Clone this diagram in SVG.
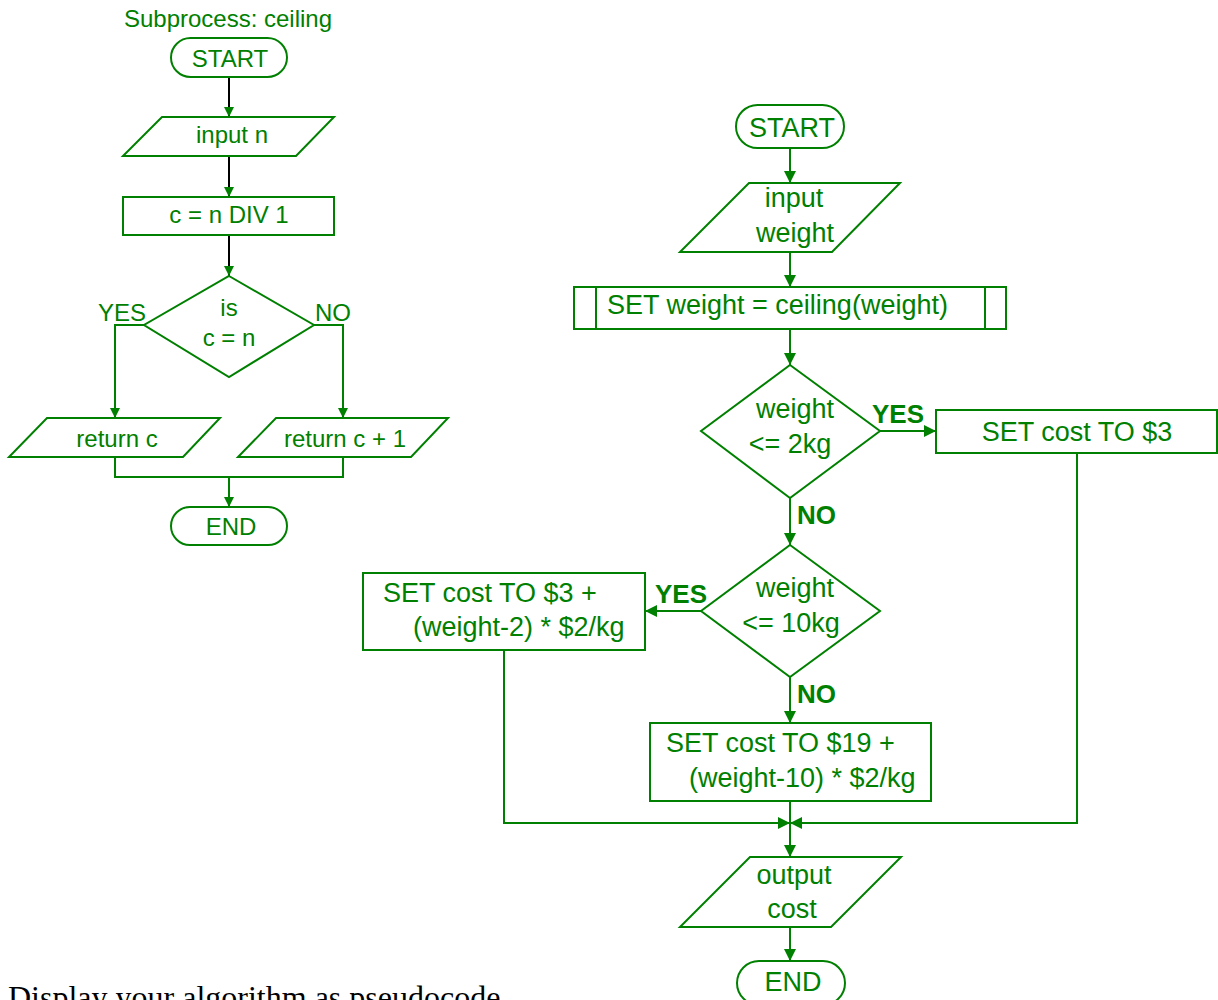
<svg xmlns="http://www.w3.org/2000/svg" width="1218" height="1000" viewBox="0 0 1218 1000">
<defs>
<style>
.s{fill:#fff;stroke:#008000;stroke-width:2}
.c{fill:none;stroke:#008000;stroke-width:2}
.k{fill:none;stroke:#000;stroke-width:2}
text{font-family:"Liberation Sans",Arial,sans-serif;fill:#008000}
.l{font-size:24px}
.r{font-size:27px}
.b{font-size:26px;font-weight:bold}
.m{text-anchor:middle}
</style>
<marker id="a" viewBox="0 0 12 12" refX="12" refY="6" markerWidth="12" markerHeight="12" markerUnits="userSpaceOnUse" orient="auto">
<path d="M0,0 L12,6 L0,12 z" fill="#008000"/>
</marker>
<marker id="as" viewBox="0 0 12 12" refX="12" refY="6" markerWidth="10" markerHeight="10" markerUnits="userSpaceOnUse" orient="auto">
<path d="M0,0 L12,6 L0,12 z" fill="#008000"/>
</marker>
</defs>
<rect width="1218" height="1000" fill="#fff"/>

<g id="connectors">
<line class="k" x1="229" y1="77" x2="229" y2="117" marker-end="url(#as)"/>
<line class="k" x1="229" y1="156" x2="229" y2="197" marker-end="url(#as)"/>
<line class="k" x1="229" y1="235" x2="229" y2="276" marker-end="url(#as)"/>
<polyline class="c" points="144,325 115,325 115,418" marker-end="url(#as)"/>
<polyline class="c" points="314,325 343,325 343,418" marker-end="url(#as)"/>
<polyline class="c" points="115,457 115,477 343,477 343,457"/>
<line class="c" x1="229" y1="477" x2="229" y2="507" marker-end="url(#as)"/>

<line class="c" x1="790" y1="148" x2="790" y2="183" marker-end="url(#a)"/>
<line class="c" x1="790" y1="252" x2="790" y2="287" marker-end="url(#a)"/>
<line class="c" x1="790" y1="329" x2="790" y2="365" marker-end="url(#a)"/>
<line class="c" x1="880" y1="431" x2="936" y2="431" marker-end="url(#a)"/>
<line class="c" x1="790" y1="498" x2="790" y2="545" marker-end="url(#a)"/>
<line class="c" x1="701" y1="611" x2="645" y2="611" marker-end="url(#a)"/>
<line class="c" x1="790" y1="677" x2="790" y2="723" marker-end="url(#a)"/>
<polyline class="c" points="504,650 504,823 790,823" marker-end="url(#a)"/>
<polyline class="c" points="1077,453 1077,823 790,823" marker-end="url(#a)"/>
<line class="c" x1="790" y1="801" x2="790" y2="857" marker-end="url(#a)"/>
<line class="c" x1="790" y1="927" x2="790" y2="961" marker-end="url(#a)"/>
<text class="b" x="898" y="423" text-anchor="middle">YES</text>
<text class="b" x="797" y="524">NO</text>
<text class="b" x="681" y="603" text-anchor="middle">YES</text>
<text class="b" x="797" y="703">NO</text>
<text class="l" x="122" y="321" text-anchor="middle">YES</text>
<text class="l" x="333" y="321" text-anchor="middle">NO</text>
</g>

<text class="l m" x="228" y="27">Subprocess: ceiling</text>

<g id="l-start">
<rect class="s" x="171" y="38" width="116" height="39" rx="19.5"/>
<text class="l m" x="230" y="67">START</text>
</g>
<g id="l-input">
<polygon class="s" points="162,117 334,117 296,156 123,156"/>
<text class="l m" x="232" y="143">input n</text>
</g>
<g id="l-div">
<rect class="s" x="123" y="197" width="211" height="38"/>
<text class="l m" x="229" y="223">c = n DIV 1</text>
</g>
<g id="l-dec">
<polygon class="s" points="229,276 314,325 229,377 144,325"/>
<text class="l m" x="229" y="316">is</text>
<text class="l m" x="229" y="346">c = n</text>
</g>
<g id="l-retc">
<polygon class="s" points="47,418 220,418 183,457 9,457"/>
<text class="l m" x="117" y="447">return c</text>
</g>
<g id="l-retc1">
<polygon class="s" points="276,418 448,418 411,457 238,457"/>
<text class="l m" x="345" y="447">return c + 1</text>
</g>
<g id="l-end">
<rect class="s" x="171" y="507" width="116" height="38" rx="19"/>
<text class="l m" x="231" y="535">END</text>
</g>

<g id="r-start">
<rect class="s" x="736" y="105" width="108" height="43" rx="21.5"/>
<text class="r m" x="792" y="137">START</text>
</g>
<g id="r-input">
<polygon class="s" points="749,183 900,183 832,252 680,252"/>
<text class="r m" x="794" y="207">input</text>
<text class="r m" x="795" y="242">weight</text>
</g>
<g id="r-ceil">
<rect class="s" x="574" y="287" width="432" height="42"/>
<line class="c" x1="596" y1="287" x2="596" y2="329"/>
<line class="c" x1="985" y1="287" x2="985" y2="329"/>
<text class="r" x="607" y="314">SET weight = ceiling(weight)</text>
</g>
<g id="r-dec1">
<polygon class="s" points="790,365 880,431 790,498 701,431"/>
<text class="r m" x="795" y="418">weight</text>
<text class="r m" x="790" y="453">&lt;= 2kg</text>
</g>
<g id="r-cost3">
<rect class="s" x="936" y="410" width="281" height="43"/>
<text class="r m" x="1077" y="441">SET cost TO $3</text>
</g>
<g id="r-dec2">
<polygon class="s" points="790,545 880,611 790,677 701,611"/>
<text class="r m" x="795" y="597">weight</text>
<text class="r m" x="791" y="632">&lt;= 10kg</text>
</g>
<g id="r-cost2">
<rect class="s" x="363" y="573" width="282" height="77"/>
<text class="r" x="383" y="602">SET cost TO $3 +</text>
<text class="r" x="413" y="636">(weight-2) * $2/kg</text>
</g>
<g id="r-cost19">
<rect class="s" x="650" y="723" width="281" height="78"/>
<text class="r" x="666" y="752">SET cost TO $19 +</text>
<text class="r" x="689" y="787">(weight-10) * $2/kg</text>
</g>
<g id="r-output">
<polygon class="s" points="750,857 901,857 831,927 680,927"/>
<text class="r m" x="794" y="884">output</text>
<text class="r m" x="792" y="918">cost</text>
</g>
<g id="r-end">
<rect class="s" x="737" y="961" width="108" height="44" rx="22"/>
<text class="r m" x="793" y="991">END</text>
</g>

<text x="8" y="1008" style="font-family:'Liberation Serif','Times New Roman',serif;font-size:32px;fill:#000">Display your algorithm as pseudocode</text>
</svg>
